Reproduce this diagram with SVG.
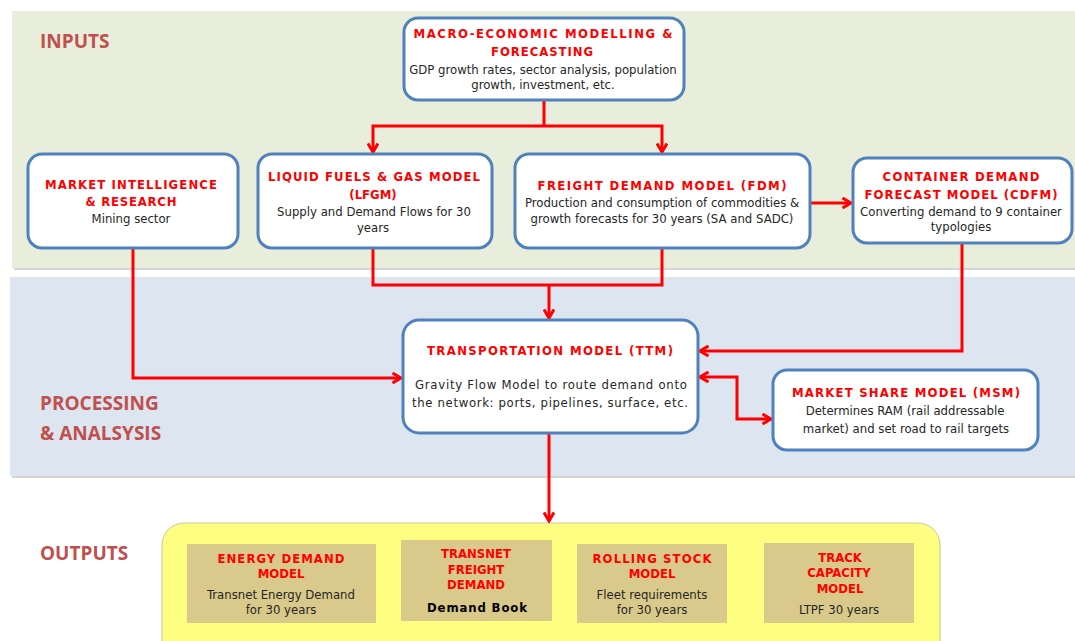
<svg xmlns="http://www.w3.org/2000/svg" width="1075" height="641" viewBox="0 0 1075 641">
<style>
.band-lbl{font-family:"Open Sans","Liberation Sans",sans-serif;font-weight:bold;font-size:19px;fill:#c0504d}
.node{fill:#fff;stroke:#4f81bd;stroke-width:3}
.ttl{font-family:"DejaVu Sans Condensed","DejaVu Sans",sans-serif;font-weight:bold;font-size:13px;fill:#ff0000;text-anchor:middle}
.txt{font-family:"DejaVu Sans Condensed","DejaVu Sans",sans-serif;font-size:13px;fill:#262626;text-anchor:middle}
.bk{fill:#000}
.obox{fill:#d9c98a}
.conn path{fill:none;stroke:#ff0000;stroke-width:3}
</style>
<defs>
<marker id="ah" viewBox="0 0 12 12" refX="10.5" refY="6" markerWidth="12" markerHeight="12" markerUnits="userSpaceOnUse" orient="auto-start-reverse">
<path d="M2,1 L10.5,6 L2,11" fill="none" stroke="#ff0000" stroke-width="3"/>
</marker>
</defs>
<rect width="1075" height="641" fill="#fff"/>
<!-- bands -->
<rect x="14" y="14" width="1061" height="256" fill="#b8b8b8" opacity="0.6"/>
<rect x="12" y="11" width="1063" height="257" fill="#e8eedb"/>
<rect x="12" y="280" width="1063" height="198" fill="#b8b8b8" opacity="0.6"/>
<rect x="10" y="277" width="1065" height="199" fill="#dce5f0"/>
<rect x="162" y="523" width="778" height="140" rx="22" fill="#fefe80" stroke="#c8c8a0" stroke-width="1"/>
<text class="band-lbl" x="40" y="48">INPUTS</text>
<text class="band-lbl" x="40" y="410">PROCESSING</text>
<text class="band-lbl" x="40" y="440">&amp; ANALSYSIS</text>
<text class="band-lbl" x="40" y="560">OUTPUTS</text>

<g class="conn">
<path d="M544,100 V126"/>
<path d="M373,152 V126 H662 V152" marker-start="url(#ah)" marker-end="url(#ah)"/>
<path d="M133,248 V378 H401" marker-end="url(#ah)"/>
<path d="M373,248 V285 H662 V248"/>
<path d="M549,285 V318" marker-end="url(#ah)"/>
<path d="M810,203 H851" marker-end="url(#ah)"/>
<path d="M962,243 V351 H700" marker-end="url(#ah)"/>
<path d="M700,377 H737 V419 H771" marker-start="url(#ah)" marker-end="url(#ah)"/>
<path d="M549,433 V521" marker-end="url(#ah)"/>
</g>

<g id="macro">
<rect class="node" x="404" y="18" width="280" height="82" rx="14"/>
<text class="ttl" x="543" y="38" textLength="259" lengthAdjust="spacing">MACRO-ECONOMIC MODELLING &amp;</text>
<text class="ttl" x="542" y="56" textLength="102" lengthAdjust="spacing">FORECASTING</text>
<text class="txt" x="543" y="74">GDP growth rates, sector analysis, population</text>
<text class="txt" x="543" y="89">growth, investment, etc.</text>
</g>

<g id="market-intel">
<rect class="node" x="28" y="154" width="210" height="94" rx="14"/>
<text class="ttl" x="131" y="189" textLength="172" lengthAdjust="spacing">MARKET INTELLIGENCE</text>
<text class="ttl" x="131" y="206" textLength="91" lengthAdjust="spacing">&amp; RESEARCH</text>
<text class="txt" x="131" y="223">Mining sector</text>
</g>

<g id="lfgm">
<rect class="node" x="258" y="154" width="234" height="94" rx="14"/>
<text class="ttl" x="374" y="181" textLength="212" lengthAdjust="spacing">LIQUID FUELS &amp; GAS MODEL</text>
<text class="ttl" x="373" y="199">(LFGM)</text>
<text class="txt" x="374" y="216">Supply and Demand Flows for 30</text>
<text class="txt" x="373" y="232">years</text>
</g>

<g id="fdm">
<rect class="node" x="515" y="154" width="295" height="94" rx="14"/>
<text class="ttl" x="662" y="190" textLength="249" lengthAdjust="spacing">FREIGHT DEMAND MODEL (FDM)</text>
<text class="txt" x="662" y="207">Production and consumption of commodities &amp;</text>
<text class="txt" x="662" y="223">growth forecasts for 30 years (SA and SADC)</text>
</g>

<g id="cdfm">
<rect class="node" x="853" y="158" width="219" height="85" rx="14"/>
<text class="ttl" x="961" y="181" textLength="157" lengthAdjust="spacing">CONTAINER DEMAND</text>
<text class="ttl" x="961" y="199" textLength="193" lengthAdjust="spacing">FORECAST MODEL (CDFM)</text>
<text class="txt" x="961" y="216">Converting demand to 9 container</text>
<text class="txt" x="961" y="231">typologies</text>
</g>

<g id="ttm">
<rect class="node" x="403" y="320" width="295" height="113" rx="16"/>
<text class="ttl" x="550" y="355" textLength="246" lengthAdjust="spacing">TRANSPORTATION MODEL (TTM)</text>
<text class="txt" x="551" y="389" textLength="272" lengthAdjust="spacing">Gravity Flow Model to route demand onto</text>
<text class="txt" x="550" y="407" textLength="276" lengthAdjust="spacing">the network: ports, pipelines, surface, etc.</text>
</g>

<g id="msm">
<rect class="node" x="773" y="370" width="265" height="80" rx="14"/>
<text class="ttl" x="906" y="397" textLength="228" lengthAdjust="spacing">MARKET SHARE MODEL (MSM)</text>
<text class="txt" x="905" y="415">Determines RAM (rail addressable</text>
<text class="txt" x="906" y="433">market) and set road to rail targets</text>
</g>

<g id="energy">
<rect class="obox" x="187" y="544" width="189" height="79"/>
<text class="ttl" x="281" y="563" textLength="127" lengthAdjust="spacing">ENERGY DEMAND</text>
<text class="ttl" x="281" y="578">MODEL</text>
<text class="txt" x="281" y="599">Transnet Energy Demand</text>
<text class="txt" x="281" y="614">for 30 years</text>
</g>

<g id="transnet">
<rect class="obox" x="401" y="540" width="151" height="81"/>
<text class="ttl" x="476" y="558">TRANSNET</text>
<text class="ttl" x="476" y="574">FREIGHT</text>
<text class="ttl" x="476" y="589">DEMAND</text>
<text class="txt bk" x="477" y="612" font-weight="bold" textLength="100" lengthAdjust="spacing">Demand Book</text>
</g>

<g id="rolling">
<rect class="obox" x="577" y="544" width="150" height="79"/>
<text class="ttl" x="652" y="563" textLength="119" lengthAdjust="spacing">ROLLING STOCK</text>
<text class="ttl" x="652" y="578">MODEL</text>
<text class="txt" x="652" y="599">Fleet requirements</text>
<text class="txt" x="652" y="614">for 30 years</text>
</g>

<g id="track">
<rect class="obox" x="764" y="543" width="150" height="80"/>
<text class="ttl" x="840" y="562">TRACK</text>
<text class="ttl" x="839" y="577">CAPACITY</text>
<text class="ttl" x="840" y="593">MODEL</text>
<text class="txt" x="839" y="614">LTPF 30 years</text>
</g>
</svg>
